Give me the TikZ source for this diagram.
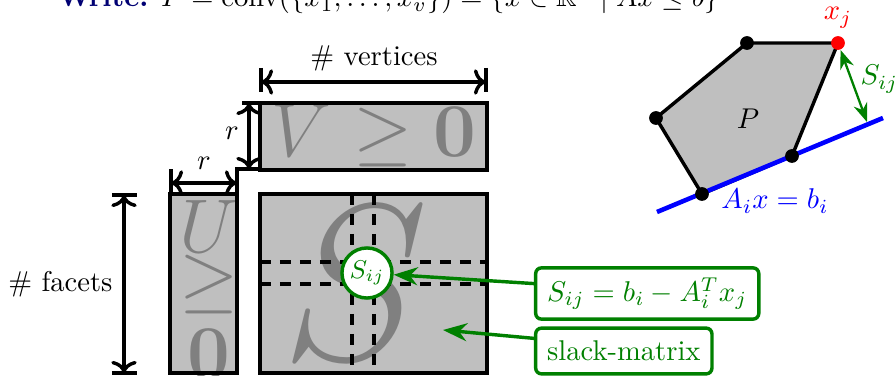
\documentclass[tikz,border=0pt]{standalone}
\usepackage{amsmath, amssymb}
\usepackage{xcolor}
\usetikzlibrary{calc,arrows.meta}

\begin{document}
\begin{tikzpicture}[x=0.35pt, y=-0.35pt,
  matbox/.style={fill=gray!50, inner sep=0pt, outer sep=0pt},
  bigtxt/.style={text=gray, inner sep=0pt, anchor=base, font=\Huge, scale=1.07, transform shape},
  dimline/.style={black, very thick},
  grn/.style={green!50!black},
  note/.style={grn, draw, very thick, fill=white, rounded corners=2pt, minimum height=16pt, inner xsep=4pt, anchor=west},
  vdot/.style={circle, fill, inner sep=0pt, minimum size=4.8pt}]
\useasboundingbox (0,0) rectangle (895,376);
% title line, cut at the top
\node[anchor=base east, inner sep=0pt] (write) at (719,7) {\textbf{\color{blue!45!black}Write:} $P = \operatorname{conv}(\{x_1,\dots,x_v\}) = \{x \in \mathbb{R}^n \mid Ax \leq b\}$};
% the three blocks
\node[matbox, minimum width=79.45pt, minimum height=23.45pt] (V) at (373.5,136.5) {};
\node[matbox, minimum width=23.45pt, minimum height=62.65pt] (U) at (203.5,283.5) {};
\node[matbox, minimum width=79.45pt, minimum height=62.65pt] (S) at (373.5,283.5) {};
\node[bigtxt] (vtxt) at (374,157) {$V \geq \mathbf{0}$};
\foreach \t/\y in {U/253, \geq/304, \mathbf{0}/379} { \node[bigtxt] at (209,\y) {$\t$}; }
\node[bigtxt, scale=2.93] (stxt) at (355,360) {$S$};
\foreach \x in {352,374} { \draw[very thick, dash pattern=on 4pt off 3pt] (\x,194) -- (\x,373); }
\foreach \y in {262,284} { \draw[very thick, dash pattern=on 4pt off 3pt] (260,\y) -- (487,\y); }
\foreach \b in {V,U,S} { \draw[very thick] (\b.south west) rectangle (\b.north east); }
\node[circle, grn, draw, very thick, fill=white, inner sep=1pt, font=\small] (sij) at (367,273) {$S_{ij}$};
% sizes
\draw[dimline] (261,68) -- (261,92) (486,68) -- (486,92);
\draw[dimline, <->] (261,82) -- (486,82);
\node[anchor=base] (nverts) at (374,66) {\# vertices};
\draw[dimline] (260,103) -- (242,103);
\draw[dimline] (260,169) -- (237,169) -- (237,194);
\draw[dimline] (171,194) -- (171,169);
\draw[dimline, <->] (249,103) -- (249,169);
\draw[dimline, <->] (171,183) -- (237,183);
\node[anchor=base] (rv) at (232,140) {$r$};
\node[anchor=base] (rh) at (204,170) {$r$};
\draw[dimline] (112,195) -- (137,195) (112,373) -- (137,373);
\draw[dimline, <->] (124,195) -- (124,373);
\node[anchor=base east, inner sep=0pt] (nfacets) at (113,292) {\# facets};
% notes
\node[note] (sijeq) at (534,293.5) {$S_{ij} = b_i - A_i^T x_j$};
\node[note] (slack) at (534,351) {slack-matrix};
\coordinate (spot) at (443,330);
\draw[grn, very thick, -Stealth] (sijeq.175) -- (sij);
\draw[grn, very thick, -Stealth] (slack.172) -- (spot);
% polytope
\coordinate (v1) at (656,118);
\coordinate (v2) at (747,43);
\coordinate (xj) at (838,43);
\coordinate (v4) at (792,156);
\coordinate (v5) at (702,194);
\coordinate (h1) at (657,212);
\coordinate (h2) at (883,118);
\draw[very thick, fill=gray!50] (v1) -- (v2) -- (xj) -- (v4) -- (v5) -- cycle;
\draw[blue, ultra thick] (h1) -- (h2);
\foreach \v in {v1,v2,v4,v5} { \node[vdot] (\v dot) at (\v) {}; }
\node[vdot, red] (xjdot) at (xj) {};
\node[red, anchor=base] (xjlab) at (838,20) {$x_j$};
\node[anchor=base] (plab) at (748,129) {$P$};
\node[blue, anchor=base] (hlab) at (775,209) {$A_i x = b_i$};
\coordinate (foot) at (867,122);
\draw[grn, thick, Stealth-Stealth] (xjdot) -- (foot);
\node[grn, anchor=base west, inner sep=0pt] (slab) at (860,85) {$S_{ij}$};
\end{tikzpicture}
\end{document}
